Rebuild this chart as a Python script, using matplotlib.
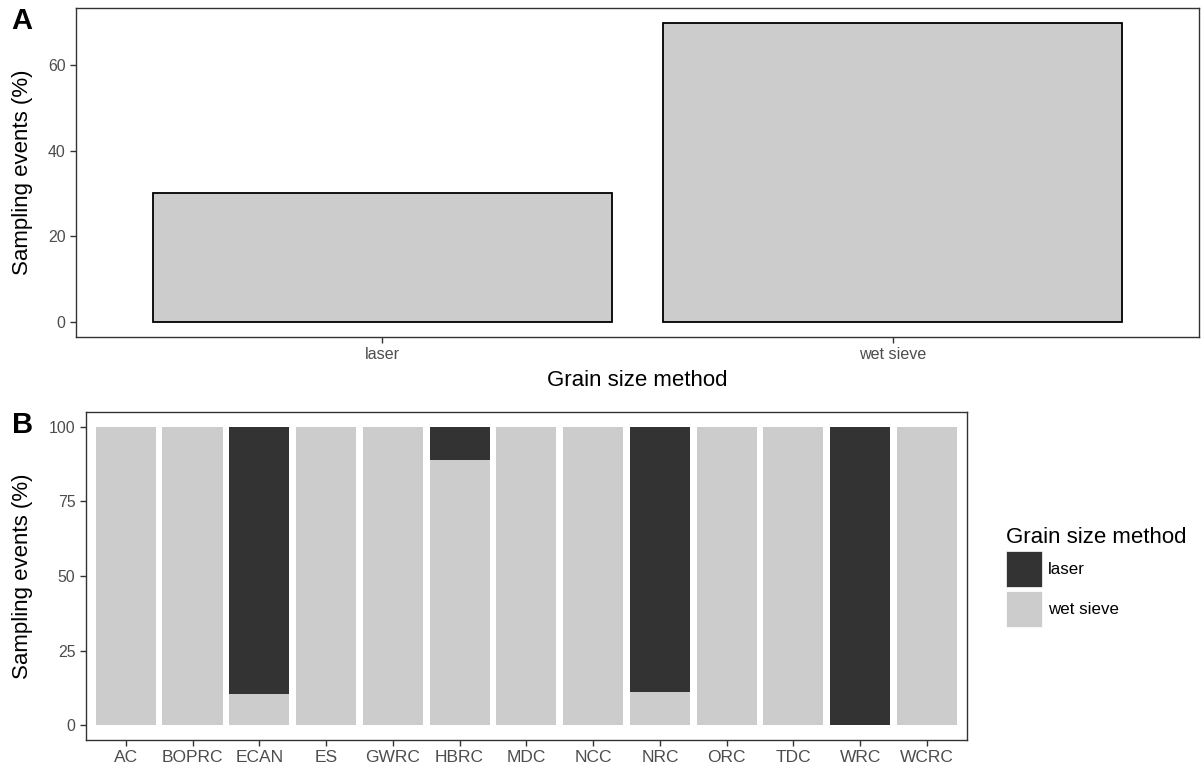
import matplotlib
matplotlib.use("Agg")
import matplotlib.pyplot as plt
from matplotlib.patches import Patch
import numpy as np

plt.rcParams['font.family'] = ['Liberation Sans', 'DejaVu Sans']

# ---- data ----
methods = ['laser', 'wet sieve']
overall_pct = [30.2, 69.8]

regions = ['AC', 'BOPRC', 'ECAN', 'ES', 'GWRC', 'HBRC', 'MDC', 'NCC',
           'NRC', 'ORC', 'TDC', 'WRC', 'WCRC']
wet_sieve_pct = [100, 100, 10.3, 100, 100, 88.9, 100, 100, 11.2, 100, 100, 0, 100]
laser_pct = [0, 0, 89.7, 0, 0, 11.1, 0, 0, 88.8, 0, 0, 100, 0]

yticks_a = [0, 20, 40, 60]
yticks_b = [0, 25, 50, 75, 100]

# ---- style ----
W, H = 1202, 771
DARK = '#333333'
LIGHT = '#CCCCCC'
TICKCOL = '#4D4D4D'
FRAME = '#333333'

fig = plt.figure(figsize=(W / 100, H / 100), dpi=100)


def px_axes(left, right, top, bottom):
    return fig.add_axes([left / W, 1 - bottom / H, (right - left) / W, (bottom - top) / H])


def style(ax, xsize):
    for s in ax.spines.values():
        s.set_color(FRAME)
        s.set_linewidth(1.0)
    ax.tick_params(axis='both', colors=FRAME, length=4.5, width=1.0, labelcolor=TICKCOL)
    ax.tick_params(axis='y', labelsize=11.4, pad=3)
    ax.tick_params(axis='x', labelsize=xsize, pad=2.5)


# ---- Panel A ----
axA = px_axes(76, 1199, 8, 337)
xa = np.arange(len(methods))
axA.bar(xa, overall_pct, width=0.9, color=LIGHT, edgecolor='black', linewidth=1.3)
axA.set_xlim(-0.6, len(methods) - 1 + 0.6)
mx = max(overall_pct)
axA.set_ylim(-0.05 * mx, 1.05 * mx)
axA.set_xticks(xa)
axA.set_xticklabels(methods)
axA.set_yticks(yticks_a)
style(axA, 11.6)

fig.text(637.5 / W, 1 - 381 / H, 'Grain size method', ha='center', va='center', fontsize=16)
fig.text(23 / W, 1 - 172 / H, 'Sampling events (%)', ha='center', va='center',
         rotation=90, fontsize=16)
fig.text(11 / W, 1 - 21 / H, 'A', ha='left', va='center', fontsize=21, fontweight='bold')

# ---- Panel B ----
axB = px_axes(85.7, 967, 412, 740)
xb = np.arange(len(regions))
axB.bar(xb, wet_sieve_pct, width=0.9, color=LIGHT, linewidth=0)
axB.bar(xb, laser_pct, width=0.9, bottom=wet_sieve_pct, color=DARK, linewidth=0)
axB.set_xlim(-0.6, len(regions) - 1 + 0.6)
axB.set_ylim(-5, 105)
axB.set_xticks(xb)
axB.set_xticklabels(regions)
axB.set_yticks(yticks_b)
style(axB, 12.5)

fig.text(23 / W, 1 - 576 / H, 'Sampling events (%)', ha='center', va='center',
         rotation=90, fontsize=16)
fig.text(12 / W, 1 - 424.5 / H, 'B', ha='left', va='center', fontsize=21, fontweight='bold')

# ---- Legend ----
handles = [Patch(facecolor=DARK, edgecolor='white', linewidth=0.5),
           Patch(facecolor=LIGHT, edgecolor='white', linewidth=0.5)]
leg = fig.legend(handles, methods, title='Grain size method', loc='upper left',
                 bbox_to_anchor=(1006 / W, 1 - 527 / H), bbox_transform=fig.transFigure,
                 frameon=False, fontsize=12.2, title_fontsize=16, borderpad=0,
                 borderaxespad=0, handlelength=2.13, handleheight=2.9,
                 handletextpad=0.36, labelspacing=0.2, alignment='left')

fig.savefig('out.png', dpi=100)
